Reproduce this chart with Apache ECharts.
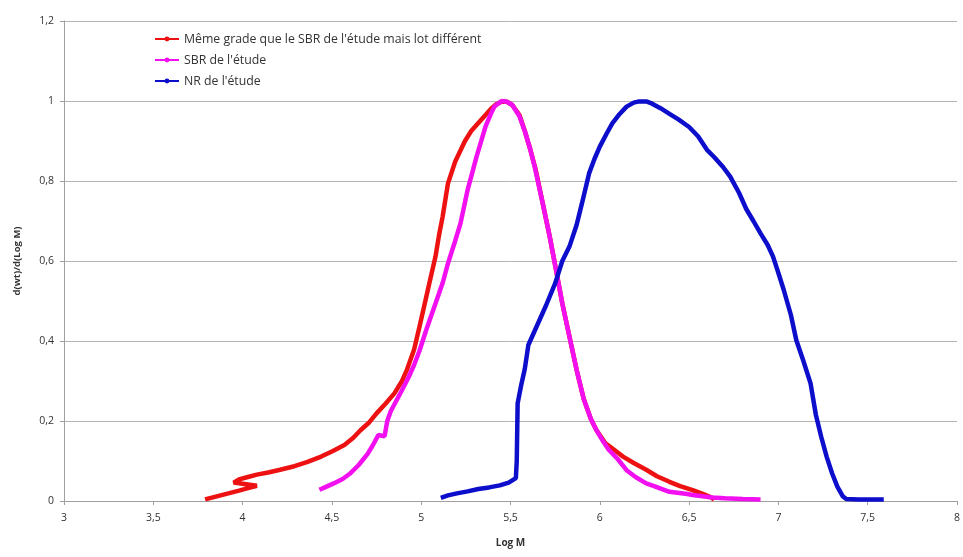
<!DOCTYPE html>
<html>
<head>
<meta charset="utf-8">
<script src="https://cdn.jsdelivr.net/npm/echarts@6/dist/echarts.min.js"></script>
<style>
  html, body { margin: 0; padding: 0; background: #ffffff; }
  #chart { width: 963px; height: 557px; }
</style>
</head>
<body>
<div id="chart"></div>
<script>
// Molecular weight distributions: d(wt)/d(Log M) versus Log M

const seriesNames = [
  "Même grade que le SBR de l'étude mais lot différent",
  "SBR de l'étude",
  "NR de l'étude"
];

// [Log M, d(wt)/d(Log M)]
const sbrOtherLot = [
  [3.79, 0.004], [3.85, 0.011], [3.92, 0.019], [3.98, 0.026], [4.03, 0.032], [4.08, 0.038],
  [3.95, 0.046], [3.98, 0.054], [4.03, 0.060], [4.08, 0.066], [4.15, 0.072], [4.21, 0.078],
  [4.29, 0.087], [4.36, 0.097], [4.44, 0.111], [4.50, 0.124], [4.57, 0.140], [4.62, 0.158],
  [4.66, 0.177], [4.71, 0.197], [4.75, 0.219], [4.80, 0.243], [4.85, 0.269], [4.89, 0.298],
  [4.92, 0.328], [4.96, 0.378], [4.99, 0.435], [5.02, 0.494], [5.05, 0.553], [5.08, 0.611],
  [5.10, 0.665], [5.12, 0.711], [5.15, 0.794], [5.19, 0.848], [5.245, 0.900], [5.28, 0.925],
  [5.32, 0.945], [5.36, 0.965], [5.39, 0.980], [5.42, 0.992], [5.45, 0.998], [5.48, 0.998],
  [5.51, 0.990], [5.55, 0.965], [5.58, 0.925], [5.61, 0.880], [5.64, 0.830], [5.68, 0.745],
  [5.72, 0.660], [5.755, 0.578], [5.79, 0.494], [5.83, 0.411], [5.87, 0.328], [5.91, 0.255],
  [5.95, 0.205], [5.98, 0.178], [6.03, 0.145], [6.08, 0.128], [6.13, 0.111], [6.19, 0.095],
  [6.26, 0.078], [6.32, 0.062], [6.39, 0.048], [6.45, 0.037], [6.52, 0.027], [6.58, 0.017],
  [6.63, 0.008], [6.64, 0.002]
];

const sbrStudy = [
  [4.43, 0.028], [4.47, 0.036], [4.51, 0.044], [4.56, 0.055], [4.60, 0.068], [4.65, 0.090],
  [4.70, 0.118], [4.73, 0.140], [4.76, 0.165], [4.795, 0.162], [4.81, 0.200], [4.83, 0.225],
  [4.86, 0.250], [4.89, 0.275], [4.93, 0.310], [4.96, 0.340], [4.99, 0.375], [5.03, 0.430],
  [5.08, 0.494], [5.12, 0.545], [5.15, 0.594], [5.19, 0.650], [5.22, 0.694], [5.26, 0.778],
  [5.31, 0.861], [5.36, 0.936], [5.39, 0.968], [5.41, 0.986], [5.45, 1.000], [5.48, 0.998],
  [5.51, 0.990], [5.55, 0.962], [5.58, 0.925], [5.61, 0.880], [5.635, 0.836], [5.68, 0.745],
  [5.72, 0.660], [5.755, 0.578], [5.79, 0.494], [5.83, 0.411], [5.87, 0.328], [5.91, 0.255],
  [5.95, 0.205], [5.98, 0.178], [6.02, 0.148], [6.05, 0.128], [6.10, 0.105], [6.15, 0.077],
  [6.20, 0.060], [6.26, 0.044], [6.30, 0.038], [6.39, 0.023], [6.49, 0.0175], [6.52, 0.015],
  [6.63, 0.009], [6.70, 0.007], [6.80, 0.005], [6.90, 0.004]
];

const nrStudy = [
  [5.11, 0.008], [5.15, 0.014], [5.20, 0.019], [5.26, 0.024], [5.32, 0.030], [5.38, 0.034],
  [5.44, 0.039], [5.49, 0.046], [5.53, 0.057], [5.535, 0.100], [5.54, 0.244], [5.56, 0.290],
  [5.58, 0.330], [5.60, 0.390], [5.62, 0.410], [5.66, 0.450], [5.70, 0.490], [5.75, 0.544],
  [5.79, 0.600], [5.83, 0.636], [5.87, 0.690], [5.90, 0.744], [5.94, 0.819], [5.97, 0.855],
  [6.00, 0.886], [6.04, 0.920], [6.07, 0.944], [6.11, 0.967], [6.15, 0.986], [6.19, 0.996],
  [6.22, 0.999], [6.26, 0.999], [6.29, 0.994], [6.34, 0.982], [6.39, 0.968], [6.44, 0.954],
  [6.50, 0.935], [6.55, 0.912], [6.60, 0.878], [6.64, 0.860], [6.69, 0.835], [6.73, 0.811],
  [6.78, 0.770], [6.82, 0.730], [6.86, 0.700], [6.90, 0.669], [6.94, 0.640], [6.97, 0.611],
  [7.00, 0.570], [7.03, 0.5275], [7.07, 0.465], [7.10, 0.4025], [7.14, 0.350], [7.18, 0.294],
  [7.21, 0.215], [7.24, 0.160], [7.27, 0.111], [7.30, 0.070], [7.33, 0.036], [7.36, 0.012],
  [7.38, 0.005], [7.45, 0.004], [7.52, 0.004], [7.59, 0.004]
];

const xMin = 3, xMax = 8, xStep = 0.5;
const yMin = 0, yMax = 1.2, yStep = 0.2;

const colors = ['#ee1111', '#f20ff0', '#0d0dcc'];
const fontFamily = '"Open Sans", Lato, sans-serif';
const commaDecimal = v => String(+v.toFixed(2)).replace('.', ',');

const chart = echarts.init(document.getElementById('chart'), null, { renderer: 'canvas' });

function lineSeries(name, data, color) {
  return {
    name: name,
    type: 'line',
    data: data,
    symbol: 'circle',
    symbolSize: 5,
    showSymbol: false,
    smooth: false,
    lineStyle: { color: color, width: 4.5 },
    itemStyle: { color: color },
    emphasis: { disabled: true },
    animation: false
  };
}

chart.setOption({
  backgroundColor: '#ffffff',
  color: colors,
  textStyle: { fontFamily: fontFamily },
  grid: { left: 64, right: 3, top: 21, bottom: 56, containLabel: false },
  legend: {
    orient: 'vertical',
    left: 149,
    top: 28,
    itemWidth: 24,
    itemHeight: 6,
    itemGap: 9,
    textStyle: { fontSize: 12.3, color: '#333333', fontFamily: fontFamily },
    data: seriesNames
  },
  xAxis: {
    type: 'value',
    min: xMin,
    max: xMax,
    interval: xStep,
    name: 'Log M',
    nameLocation: 'middle',
    nameGap: 37,
    nameTextStyle: { fontSize: 10, fontWeight: 'bold', color: '#333333' },
    axisLine: { show: true, lineStyle: { color: '#a0a0a0', width: 1 } },
    axisTick: { show: true, length: 4, lineStyle: { color: '#a0a0a0' } },
    axisLabel: { fontSize: 10.5, color: '#333333', margin: 12, formatter: commaDecimal },
    splitLine: { show: false }
  },
  yAxis: {
    type: 'value',
    min: yMin,
    max: yMax,
    interval: yStep,
    name: 'd(wt)/d(Log M)',
    nameLocation: 'middle',
    nameGap: 42,
    nameRotate: 90,
    nameTextStyle: { fontSize: 9.5, fontWeight: 'bold', color: '#333333' },
    axisLine: { show: true, lineStyle: { color: '#a0a0a0', width: 1 } },
    axisTick: { show: true, length: 4, lineStyle: { color: '#a0a0a0' } },
    axisLabel: { fontSize: 10.5, color: '#333333', margin: 10, formatter: commaDecimal },
    splitLine: { show: true, lineStyle: { color: '#b4b4b4', width: 1 } }
  },
  series: [
    lineSeries(seriesNames[0], sbrOtherLot, colors[0]),
    lineSeries(seriesNames[1], sbrStudy, colors[1]),
    lineSeries(seriesNames[2], nrStudy, colors[2])
  ]
});
</script>
</body>
</html>
